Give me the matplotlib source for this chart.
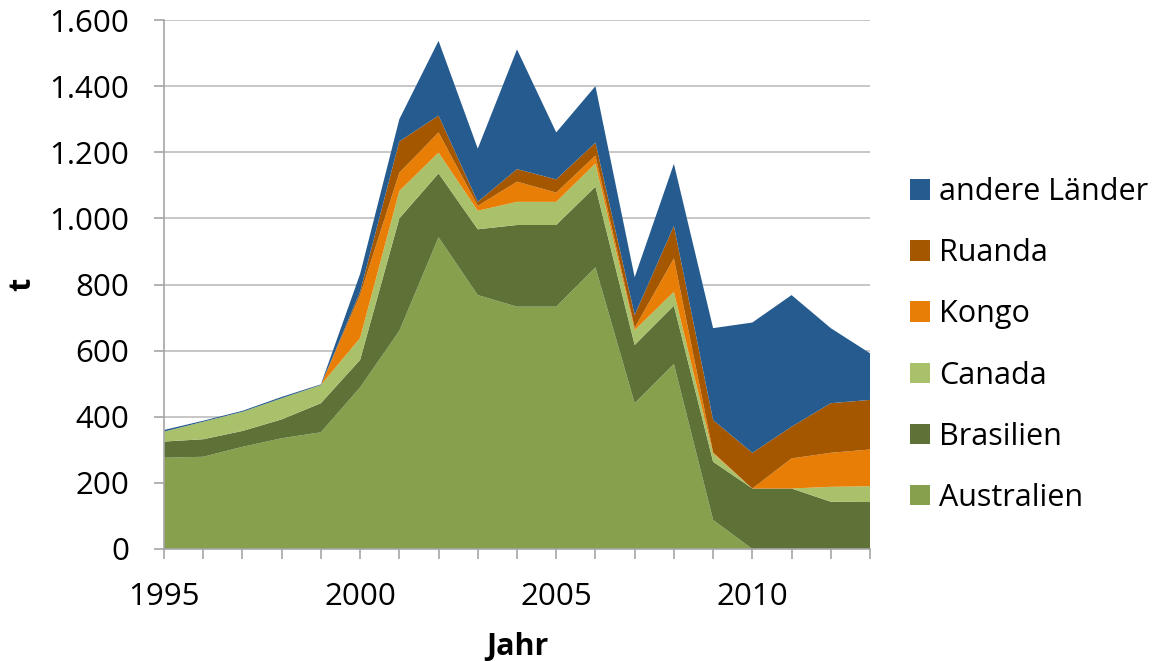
import matplotlib
matplotlib.use("Agg")
import matplotlib.pyplot as plt
from matplotlib.patches import Patch
from matplotlib.ticker import MultipleLocator, FuncFormatter

plt.rcParams['font.family'] = ['Open Sans', 'DejaVu Sans']

years = list(range(1995, 2014))
australien = [276, 279, 309, 335, 353, 489, 660, 943, 768, 733, 733, 852, 441, 560, 88, 0, 0, 0, 0]
brasilien = [49, 53, 48, 57, 88, 83, 340, 193, 199, 247, 247, 244, 176, 176, 176, 183, 183, 143, 142]
canada = [30, 53, 58, 64, 55, 66, 83, 63, 56, 70, 70, 70, 45, 42, 25, 0, 0, 45, 48]
kongo = [0, 0, 0, 0, 0, 130, 55, 61, 15, 61, 28, 24, 7, 101, 3, 0, 91, 103, 111]
ruanda = [0, 0, 0, 0, 0, 10, 95, 51, 12, 38, 40, 39, 39, 98, 98, 108, 96, 150, 150]
andere = [5, 3, 3, 4, 2, 54, 67, 226, 161, 362, 142, 171, 114, 188, 278, 394, 398, 227, 141]

labels = ["Australien", "Brasilien", "Canada", "Kongo", "Ruanda", "andere Länder"]
colors = ["#86A04E", "#5E7136", "#AAC16B", "#E87E06", "#A55700", "#265B8F"]

fig = plt.figure(figsize=(11.55, 6.61), dpi=100)
ax = fig.add_axes([164/1155, 1-549/661, (870-164)/1155, (549-20)/661])

ax.stackplot(years, australien, brasilien, canada, kongo, ruanda, andere,
             colors=colors, labels=labels, linewidth=0, zorder=2)

ax.set_xlim(1995, 2013)
ax.set_ylim(0, 1600)
ax.yaxis.set_major_locator(MultipleLocator(200))
ax.yaxis.set_major_formatter(FuncFormatter(lambda v, p: f"{int(v):,}".replace(",", ".")))
ax.xaxis.set_major_locator(MultipleLocator(5))
ax.xaxis.set_minor_locator(MultipleLocator(1))

ax.grid(axis='y', color='#BEBEBE', linewidth=1.2, zorder=0)
ax.set_axisbelow(True)
for s in ['top', 'right']:
    ax.spines[s].set_visible(False)
for s in ['left', 'bottom']:
    ax.spines[s].set_color('#A6A6A6')
    ax.spines[s].set_linewidth(1.2)
    ax.spines[s].set_zorder(3)

ax.tick_params(axis='y', length=7, width=1.2, color='#A6A6A6', pad=18, labelsize=22.5)
ax.tick_params(axis='x', which='both', length=7, width=1.2, color='#A6A6A6', pad=17, labelsize=22.5)
ax.tick_params(axis='x', which='minor', labelbottom=False)

fig.text(22/1155, 1-284/661, 't', rotation=90, ha='center', va='center',
         fontsize=22, fontweight='bold')
fig.text(517/1155, 1-647/661, 'Jahr', ha='center', va='center',
         fontsize=22, fontweight='bold')

handles = [Patch(facecolor=c, edgecolor='none') for c in colors][::-1]
ax.legend(handles, labels[::-1], loc='center left', bbox_to_anchor=(910/1155, 1-345/661),
          bbox_transform=fig.transFigure, frameon=False, fontsize=22,
          handlelength=0.65, handleheight=0.65, handletextpad=0.3,
          labelspacing=1.02, borderpad=0, borderaxespad=0)

fig.savefig("out.png", dpi=100)
